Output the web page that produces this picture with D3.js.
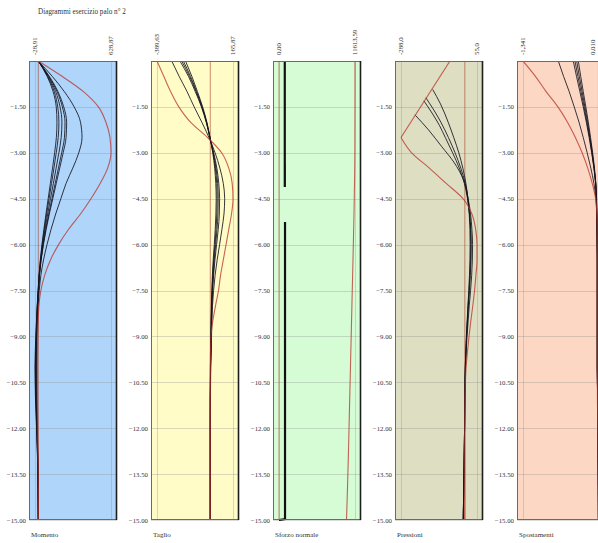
<!DOCTYPE html>
<html><head><meta charset="utf-8">
<script src="https://cdn.jsdelivr.net/npm/d3@7"></script>
<style>
html,body{margin:0;padding:0;background:#fff;overflow:hidden}
svg{display:block}
text{font-family:"Liberation Serif","Times New Roman",serif;fill:#333}
</style>
</head><body>
<svg id="c" width="598" height="543"></svg>
<script>
// ---------- DATA ----------
const title = "Diagrammi esercizio palo n° 2";
const panelNames = ["Momento","Taglio","Sforzo normale","Pressioni","Spostamenti"];
const panelColors = ["#afd5fa","#fffcc8","#d6fcd6","#dedec2","#fcd8c4"];
const yTicks = [-1.5,-3,-4.5,-6,-7.5,-9,-10.5,-12,-13.5,-15];

// elevations (m) shared by most series
const z = [0,-0.5,-1,-1.5,-2,-2.5,-3,-3.5,-4,-4.5,-5,-5.5,-6,-6.5,-7,-7.5,-8,-9,-10,-11,-12,-13,-14,-15];

// Momento
const momDomain = [-28.91, 628.87];
const momLabels = ["-28,91","628,87"];
const momEnv = [0,205,390,520,585,620,628.87,600,535,455,365,262,175,105,55,22,5,-5,-8,-8,-5,-2,0,0];
const momA = [0,120,225,310,365,378,350,298,240,195,150,110,75,45,22,8,-2,-12,-16,-14,-9,-4,-1,0];
const momB = [0,95,170,220,245,240,215,185,155,125,95,68,44,24,10,2,-6,-15,-19,-16,-10,-5,-1,0];
const momC = [0,90,162,208,231,226,202,174,146,118,90,64,42,23,9,1,-7,-16,-21,-18,-11,-5,-1,0];
const momD = [0,85,150,188,204,198,178,154,130,105,81,58,38,21,8,0,-8,-18,-23,-20,-12,-6,-2,0];
const momE = [0,80,138,168,178,172,155,135,114,93,72,52,34,19,7,-1,-9,-20,-26,-23,-14,-6,-2,0];
const momF = [0,76,128,155,161,156,141,123,104,85,66,48,31,17,6,-2,-10,-22,-28.91,-25,-15,-7,-2,0];

// Taglio
const tagDomain = [-389.63, 165.87];
const tagLabels = ["-389,63","165,87"];
const tagEnv = [-389.63,-340,-290,-230,-145,-20,83,135,160,165.87,155,135,115,95,75,60,38,5,0,0,0,0,0,0];
const tag1 = [-282,-228,-170,-118,-62,-10,35,70,95,105,100,85,68,50,35,24,16,9,3,1,0,0,0,0];
const tag2 = [-222,-160,-110,-65,-30,-3,25,48,62,68,66,58,46,34,24,17,12,7,2,0,0,0,0,0];
const tag3 = [-209,-152,-104,-62,-28,-3,22,42,54,58,56,49,39,29,21,15,10,6,2,0,0,0,0,0];
const tag4 = [-197,-145,-100,-60,-27,-3,20,37,47,50,48,42,34,25,18,13,9,5,1,0,0,0,0,0];
const tag5 = [-181,-135,-94,-56,-25,-2,18,32,40,43,41,36,29,21,15,11,8,4,1,0,0,0,0,0];

// Sforzo normale
const normDomain = [0, 11613.59];
const normLabels = ["0,00","11613,59"];
const normEnv = [11613.59,11613,11610,11605,11600,11595,11590,11570,11540,11500,11460,11410,11360,11305,11250,11195,11140,11030,10920,10810,10700,10590,10460,10315];
const normLow1 = [[0,880],[-4.12,890]];
const normLow2 = [[-5.26,920],[-14.97,920],[-15,0]];

// Pressioni
const presDomain = [-288.0, 55.0];
const presLabels = ["-288,0","55,0"];
const presEnvTop = [[0,-67],[-2.5,-288]];
const presEnvLow = [[-2.5,-288],[-3,-240],[-3.5,-160],[-4,-84],[-4.5,-8],[-5,32],[-5.5,49],[-6,55],[-6.5,55],[-7,50],[-7.5,44],[-8,36],[-8.5,27],[-9,19],[-9.5,12],[-10,6],[-11,1],[-12,0],[-13,0],[-14,0],[-15,0]];
const pres1 = [[-0.93,-145],[-1.4,-110],[-2,-75],[-2.5,-50],[-3,-27],[-3.5,-9],[-4,5],[-4.5,14],[-5,20],[-5.5,23],[-6,24],[-6.5,23],[-7,21],[-7.5,18],[-8,14],[-9,7],[-10,2],[-11,0],[-12,-1],[-13,-3],[-14,-5],[-15,-7]];
const pres2 = [[-1.2,-176],[-1.6,-140],[-2,-108],[-2.5,-74],[-3,-44],[-3.5,-18],[-4,2],[-4.5,14],[-5,22],[-5.5,26],[-6,27],[-6.5,26],[-7,23],[-7.5,19],[-8,15],[-9,8],[-10,2],[-11,0],[-12,-1],[-13,-3],[-14,-5],[-15,-7]];
const pres3 = [[-1.3,-185],[-1.7,-148],[-2.1,-115],[-2.5,-88],[-3,-55],[-3.5,-25],[-4,-2],[-4.5,12],[-5,21],[-5.5,27],[-6,29],[-6.5,28],[-7,25],[-7.5,21],[-8,16],[-9,8],[-10,3],[-11,0],[-12,-1],[-13,-3],[-14,-5],[-15,-7]];
const pres4 = [[-1.76,-225],[-2.25,-164],[-2.8,-104],[-3.3,-50],[-3.9,-5],[-4.5,15],[-5,26],[-5.5,32],[-6,35],[-6.5,34],[-7,31],[-7.5,26],[-8,20],[-9,10],[-10,3],[-11,0],[-12,-1],[-13,-3],[-14,-5],[-15,-7]];

// Spostamenti
const spDomain = [-1.341, 0.010];
const spLabels = ["-1,341","0,010"];
const spEnv = [-1.341,-1.12,-0.93,-0.72,-0.55,-0.41,-0.29,-0.19,-0.11,-0.05,-0.028,-0.022,-0.02,-0.02,-0.02,-0.02,-0.02,-0.02,-0.02,-0.018,-0.012,-0.006,-0.002,0];
const sp1 = [-0.713,-0.62,-0.52,-0.43,-0.345,-0.27,-0.2,-0.135,-0.08,-0.045,-0.03,-0.025,-0.022,-0.02,-0.02,-0.02,-0.02,-0.02,-0.02,-0.015,-0.01,-0.005,-0.002,0];
const sp2 = [-0.447,-0.39,-0.33,-0.27,-0.215,-0.165,-0.12,-0.08,-0.05,-0.035,-0.03,-0.025,-0.022,-0.02,-0.02,-0.02,-0.02,-0.02,-0.02,-0.015,-0.01,-0.005,-0.002,0];
const sp3 = [-0.417,-0.365,-0.31,-0.255,-0.205,-0.157,-0.115,-0.078,-0.05,-0.035,-0.03,-0.025,-0.022,-0.02,-0.02,-0.02,-0.02,-0.02,-0.02,-0.015,-0.01,-0.005,-0.002,0];
const sp4 = [-0.387,-0.34,-0.29,-0.24,-0.193,-0.15,-0.11,-0.075,-0.048,-0.034,-0.03,-0.025,-0.022,-0.02,-0.02,-0.02,-0.02,-0.02,-0.02,-0.015,-0.01,-0.005,-0.002,0];
const sp5 = [-0.358,-0.315,-0.27,-0.224,-0.18,-0.14,-0.103,-0.07,-0.046,-0.033,-0.03,-0.025,-0.022,-0.02,-0.02,-0.02,-0.02,-0.02,-0.02,-0.015,-0.01,-0.005,-0.002,0];

// ---------- BUILD ----------
const pairs = vals => z.map((e,i)=>[e,vals[i]]);
const panels = [
  {domain:momDomain, labels:momLabels, dark:[momA,momB,momC,momD,momE,momF].map(pairs), env:[pairs(momEnv)]},
  {domain:tagDomain, labels:tagLabels, dark:[tag1,tag2,tag3,tag4,tag5].map(pairs), env:[pairs(tagEnv)]},
  {domain:normDomain, labels:normLabels, dark:[], thick:[normLow1,normLow2], env:[pairs(normEnv)]},
  {domain:presDomain, labels:presLabels, dark:[pres1,pres2,pres3,pres4], env:[presEnvTop,presEnvLow]},
  {domain:spDomain, labels:spLabels, dark:[sp1,sp2,sp3,sp4,sp5].map(pairs), env:[pairs(spEnv)]}
];

const svg = d3.select("#c");
const T = 61, B = 520, W = 88;
const y = d3.scaleLinear().domain([0,-15]).range([T,B]);
const fmt = d3.format(".2f");

svg.append("text").attr("x",38).attr("y",14).attr("font-size",7.2).text(title);

const defs = svg.append("defs");

panels.forEach((p,i)=>{
  const x0 = 29 + i*122;
  const x = d3.scaleLinear().domain(p.domain).range([x0+6, x0+82]);
  const g = svg.append("g");
  const cid = "clip"+i;
  defs.append("clipPath").attr("id",cid).append("rect")
    .attr("x",x0).attr("y",T).attr("width",W).attr("height",B-T+1);

  g.append("rect").attr("x",x0).attr("y",T).attr("width",W).attr("height",B-T)
    .attr("fill",panelColors[i]);

  // horizontal grid
  g.selectAll(".hg").data(yTicks).join("line")
    .attr("x1",x0).attr("x2",x0+W)
    .attr("y1",d=>Math.round(y(d))+0.5).attr("y2",d=>Math.round(y(d))+0.5)
    .attr("stroke","#8c8c8c").attr("stroke-opacity",0.32).attr("stroke-width",1);

  // vertical grid at min / max
  g.selectAll(".vg").data(p.domain).join("line")
    .attr("x1",d=>Math.round(x(d))+0.5).attr("x2",d=>Math.round(x(d))+0.5)
    .attr("y1",T).attr("y2",B)
    .attr("stroke","#8c8c8c").attr("stroke-opacity",0.32);

  // y tick labels
  g.selectAll(".yl").data(yTicks).join("text")
    .attr("x",x0-3).attr("y",d=>y(d)+2.5)
    .attr("text-anchor","end").attr("font-size",6.8)
    .text(d=>fmt(d));

  // top labels (rotated)
  g.selectAll(".tl").data(p.domain).join("text")
    .attr("transform",(d)=>`translate(${Math.min(x(d)+2.4,595)},55) rotate(-90)`)
    .attr("font-size",6.8).attr("text-anchor","start")
    .text((d,k)=>p.labels[k]);

  // panel name
  g.append("text").attr("x",x0+2).attr("y",537).attr("font-size",7).text(panelNames[i]);

  const cg = g.append("g").attr("clip-path",`url(#${cid})`);
  // zero line
  cg.append("line").attr("x1",x(0)).attr("x2",x(0)).attr("y1",T).attr("y2",B)
    .attr("stroke","#a8452a").attr("stroke-opacity",0.55).attr("stroke-width",1.1);

  const line = d3.line().x(d=>x(d[1])).y(d=>y(d[0])).curve(d3.curveMonotoneY);
  p.dark.forEach(s=>{
    cg.append("path").attr("d",line(s)).attr("fill","none")
      .attr("stroke","#141420").attr("stroke-opacity",0.85).attr("stroke-width",1);
  });
  (p.thick||[]).forEach(s=>{
    cg.append("path").attr("d",d3.line().x(d=>x(d[1])).y(d=>y(d[0]))(s)).attr("fill","none")
      .attr("stroke","#111").attr("stroke-width",2.2);
  });
  p.env.forEach(s=>{
    cg.append("path").attr("d",line(s)).attr("fill","none")
      .attr("stroke","#b8302a").attr("stroke-opacity",0.75).attr("stroke-width",1.1);
  });

  // border
  g.append("rect").attr("x",x0+0.5).attr("y",T+0.5).attr("width",W-1).attr("height",B-T-1)
    .attr("fill","none").attr("stroke","#6a6a6a").attr("stroke-width",1);
  g.append("line").attr("x1",x0+W-0.5).attr("x2",x0+W-0.5).attr("y1",T).attr("y2",B)
    .attr("stroke","#1e1e1e").attr("stroke-width",1.6);
});
</script>
</body></html>
